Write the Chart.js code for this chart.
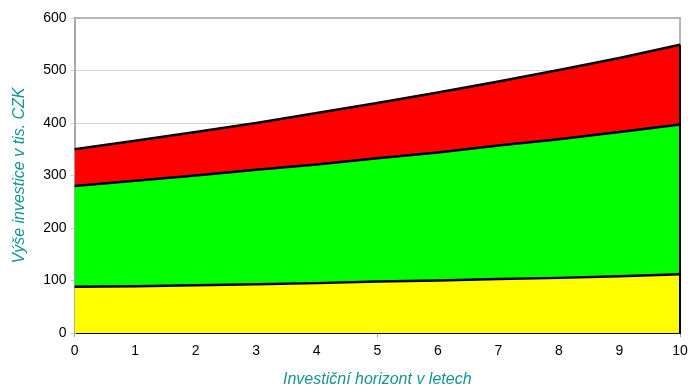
<!DOCTYPE html>
<html>
<head>
<meta charset="utf-8">
<script src="https://cdn.jsdelivr.net/npm/chart.js@4"></script>
<style>
  html, body { margin: 0; padding: 0; background: #fff; }
  #wrap { width: 688px; height: 389px; position: relative; }
</style>
</head>
<body>
<div id="wrap"><canvas id="chart" width="688" height="389"></canvas></div>
<script>
// years on the horizon axis
const years = ['0', '1', '2', '3', '4', '5', '6', '7', '8', '9', '10'];
// stacked layers, thousands CZK (bottom to top)
const yellowPart = [88, 89, 91, 93, 95, 98, 100, 103, 105, 108, 112];
const greenPart = [192, 201, 209, 218, 226, 235, 244, 254, 264, 275, 285];
const redPart = [70, 76, 83, 89, 98, 105, 114, 122, 132, 141, 152];

const teal = '#169393';

// gray frame round the plot and the black closing edge at the last year
const framePlugin = {
  id: 'frame',
  beforeDatasetsDraw(chart) {
    const { ctx, chartArea: a } = chart;
    ctx.save();
    ctx.strokeStyle = '#b4b4b4';
    ctx.lineWidth = 2;
    ctx.beginPath();
    ctx.moveTo(a.left, a.top);
    ctx.lineTo(a.right, a.top);
    ctx.lineTo(a.right, a.bottom);
    ctx.stroke();
    ctx.restore();
  },
  afterDatasetsDraw(chart) {
    const { ctx } = chart;
    const last = years.length - 1;
    const x = chart.scales.x.getPixelForValue(last);
    const total = yellowPart[last] + greenPart[last] + redPart[last];
    ctx.save();
    ctx.strokeStyle = '#000';
    ctx.lineWidth = 2;
    ctx.beginPath();
    ctx.moveTo(x, chart.scales.y.getPixelForValue(0));
    ctx.lineTo(x, chart.scales.y.getPixelForValue(total));
    ctx.stroke();
    ctx.restore();
  }
};

new Chart(document.getElementById('chart').getContext('2d'), {
  type: 'line',
  data: {
    labels: years,
    datasets: [
      { label: 'A', data: yellowPart, backgroundColor: '#ffff00', fill: 'origin' },
      { label: 'B', data: greenPart, backgroundColor: '#00ff00', fill: '-1' },
      { label: 'C', data: redPart, backgroundColor: '#ff0000', fill: '-1' },
    ].map((d) => ({ ...d, borderColor: '#000', borderWidth: 2.5, pointRadius: 0, tension: 0 })),
  },
  plugins: [framePlugin],
  options: {
    responsive: false,
    animation: false,
    layout: { padding: { top: 18, right: 0, left: 10, bottom: 0 } },
    plugins: { legend: { display: false }, tooltip: { enabled: false } },
    scales: {
      x: {
        offset: false,
        // let the plot run closer to the right edge, like the original
        afterFit: (scale) => { scale.paddingRight = 8; },
        border: { color: '#000', width: 2 },
        grid: {
          drawOnChartArea: false,
          tickLength: 4,
          color: (c) => (c.index % 5 === 0 ? '#a0a0a0' : 'rgba(0,0,0,0)'),
        },
        ticks: { color: '#000', font: { family: 'Liberation Sans', size: 14 }, maxRotation: 0, padding: 6 },
        title: {
          display: true,
          text: 'Investiční horizont v letech',
          color: teal,
          font: { family: 'Liberation Sans', size: 16, style: 'italic' },
          padding: { top: 4, bottom: 0 },
        },
      },
      y: {
        stacked: true,
        min: 0,
        max: 600,
        border: { color: '#a8a8a8', width: 2 },
        grid: { color: '#d0d0d0', tickLength: 4 },
        ticks: { stepSize: 100, color: '#000', font: { family: 'Liberation Sans', size: 14 }, padding: 4 },
        title: {
          display: true,
          text: 'Výše investice v tis. CZK',
          color: teal,
          font: { family: 'Liberation Sans', size: 16, style: 'italic' },
          padding: { top: 0, bottom: 10 },
        },
      },
    },
  },
});
</script>
</body>
</html>
